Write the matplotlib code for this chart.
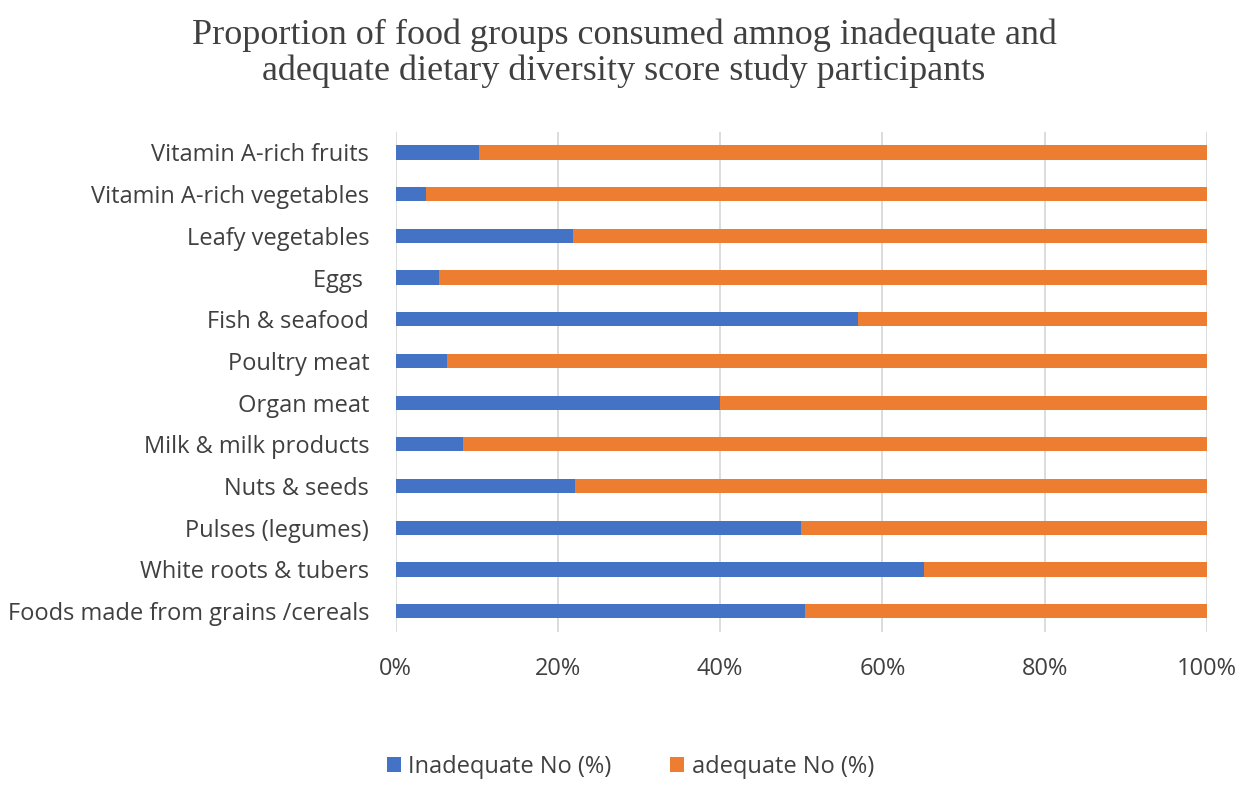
import matplotlib
matplotlib.use("Agg")
import matplotlib.pyplot as plt
import numpy as np

categories = [
    "Vitamin A-rich fruits",
    "Vitamin A-rich vegetables",
    "Leafy vegetables",
    "Eggs ",
    "Fish & seafood",
    "Poultry meat",
    "Organ meat",
    "Milk & milk products",
    "Nuts & seeds",
    "Pulses (legumes)",
    "White roots & tubers",
    "Foods made from grains /cereals",
]
inadequate = [10.3, 3.8, 21.9, 5.3, 57.0, 6.3, 40.0, 8.3, 22.1, 50.0, 65.1, 50.5]
adequate = [100 - v for v in inadequate]
xticks = [0, 20, 40, 60, 80, 100]
xtick_labels = ["0%", "20%", "40%", "60%", "80%", "100%"]

plt.rcParams['font.family'] = ['Open Sans', 'DejaVu Sans']

fig = plt.figure(figsize=(12.48, 7.93), dpi=100)
ax = fig.add_axes([0.317, 0.203, 0.650, 0.631])

y = np.arange(len(categories))
h = 0.34
ax.barh(y, inadequate, height=h, color="#4472C4", label="Inadequate No (%)", zorder=3)
ax.barh(y, adequate, left=inadequate, height=h, color="#ED7D31", label="adequate No (%)", zorder=3)

ax.set_ylim(len(categories) - 0.5, -0.5)
ax.set_xlim(0, 100)
ax.set_yticks(y)
ax.set_yticklabels(categories, fontsize=17, color="#404040")
ax.set_xticks(xticks)
ax.set_xticklabels(xtick_labels, fontsize=17, color="#404040")
ax.tick_params(axis='both', length=0)
ax.tick_params(axis='y', pad=19)
ax.tick_params(axis='x', pad=18)
ax.xaxis.grid(True, color="#D9D9D9", linewidth=1.3, zorder=0)
for s in ax.spines.values():
    s.set_visible(False)

fig.text(0.5, 0.977, "Proportion of food groups consumed amnog inadequate and\nadequate dietary diversity score study participants",
         ha='center', va='top', fontsize=26, family=['Liberation Serif'], color="#404040", linespacing=1.12)

leg = fig.legend(loc='center', bbox_to_anchor=(0.505, 0.033), ncol=2, frameon=False,
                 fontsize=17, handlelength=0.6, handleheight=0.6, handletextpad=0.3,
                 columnspacing=2.5)
for t in leg.get_texts():
    t.set_color("#404040")

fig.savefig("out.png", dpi=100, facecolor="white")
